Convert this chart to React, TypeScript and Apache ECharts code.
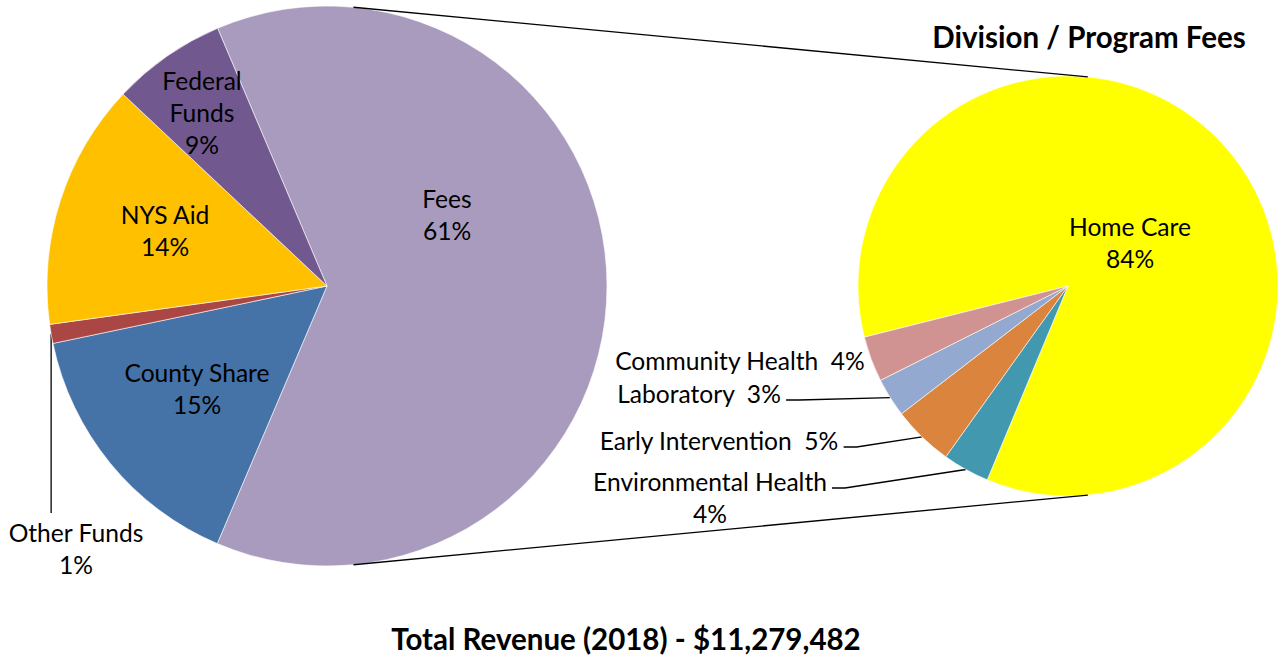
import React, { useEffect, useRef } from "react";
import * as echarts from "echarts";

// ---- Data ----
const leftCategories = ["Fees", "County Share", "Other Funds", "NYS Aid", "Federal Funds"];
const leftValues = [62.8, 15.3, 1.1, 14.2, 6.6];
const leftPercentLabels = [61, 15, 1, 14, 9];

const rightCategories = ["Home Care", "Environmental Health", "Early Intervention", "Laboratory", "Community Health"];
const rightValues = [85.2, 3.6, 4.7, 3.0, 3.5];
const rightPercentLabels = [84, 4, 5, 3, 4];

const rightTitle = "Division / Program Fees";
const revenueYear = "2018";
const revenueTotal = "$11,279,482";

// ---- Styles / layout ----
const FONT = "Lato, 'Open Sans', sans-serif";
const FONT_SIZE = 24.6;
const TITLE_SIZE = 29.5;
const LINE_H = 32;

const leftColors = ["#A99BBD", "#4572A7", "#AA4643", "#FFC000", "#71588F"];
const rightColors = ["#FFFF00", "#4198AF", "#DB843D", "#93A9CF", "#D19392"];

const LEFT = { cx: 327, cy: 286, r: 280, start: 113 };
const RIGHT = { cx: 1068, cy: 286, r: 210, start: 194.1 };

// label placement (block centre), separator and leader type per slice
const leftLabelCfg = [
  { x: 447, y: 214, sep: "\n", wrap: false, line: "none" },
  { x: 197, y: 388, sep: "\n", wrap: false, line: "none" },
  { x: 76, y: 548, sep: "\n", wrap: false, line: "down" },
  { x: 165, y: 230, sep: "\n", wrap: false, line: "none" },
  { x: 202, y: 112, sep: "\n", wrap: true, line: "none" },
];
const rightLabelCfg = [
  { x: 1130, y: 242, sep: "\n", wrap: false, line: "none" },
  { x: 710, y: 497, sep: "\n", wrap: false, line: "side" },
  { x: 719, y: 440, sep: "  ", wrap: false, line: "side" },
  { x: 699, y: 393, sep: "  ", wrap: false, line: "side" },
  { x: 740, y: 360, sep: "  ", wrap: false, line: "none" },
];

function midPoint(values: number[], geo: any, i: number): number[] {
  const total = values.reduce((a, b) => a + b, 0);
  let cum = 0;
  for (let k = 0; k < i; k++) cum += values[k];
  const mid = ((geo.start - ((cum + values[i] / 2) / total) * 360) * Math.PI) / 180;
  return [geo.cx + geo.r * Math.cos(mid), geo.cy - geo.r * Math.sin(mid)];
}

function buildSeries(
  categories: string[],
  values: number[],
  pcts: number[],
  colors: string[],
  cfg: any[],
  geo: any
) {
  return {
    type: "pie",
    center: [geo.cx, geo.cy],
    radius: geo.r,
    startAngle: geo.start,
    clockwise: true,
    avoidLabelOverlap: false,
    minShowLabelAngle: 0,
    itemStyle: { borderColor: "#ffffff", borderWidth: 0.6 },
    emphasis: { disabled: true },
    label: {
      show: true,
      fontFamily: FONT,
      fontSize: FONT_SIZE,
      lineHeight: LINE_H,
      color: "#000000",
      align: "center",
      formatter: (p: any) => {
        const c = cfg[p.dataIndex];
        const name = c.wrap ? p.name.replace(" ", "\n") : p.name;
        return name + c.sep + pcts[p.dataIndex] + "%";
      },
    },
    labelLine: {
      show: true,
      length: 10,
      length2: 10,
      lineStyle: { color: "#000000", width: 1.3 },
    },
    labelLayout: (params: any) => {
      const c = cfg[params.dataIndex];
      const rect = params.labelRect;
      const out: any = { x: c.x, y: c.y, align: "center", verticalAlign: "middle" };
      const p0 = midPoint(values, geo, params.dataIndex);
      if (c.line === "side") {
        const right = c.x + rect.width / 2;
        const top = c.y - rect.height / 2;
        const ly = top + LINE_H / 2 + 7;
        out.labelLinePoints = [p0, [right + 18, ly], [right + 5, ly]];
      } else if (c.line === "down") {
        const top = c.y - rect.height / 2;
        out.labelLinePoints = [p0, [p0[0], (p0[1] + top - 3) / 2], [p0[0], top - 3]];
      }
      return out;
    },
    data: categories.map((name, i) => ({
      name,
      value: values[i],
      itemStyle: { color: colors[i] },
      label: { position: cfg[i].line === "none" ? "inside" : "outside" },
      labelLine: { show: cfg[i].line !== "none" },
    })),
  };
}

function tangentLines() {
  const d = RIGHT.cx - LEFT.cx;
  const cosPhi = (LEFT.r - RIGHT.r) / d;
  const sinPhi = Math.sqrt(1 - cosPhi * cosPhi);
  const pt = (g: any, s: number) => [g.cx + g.r * cosPhi, g.cy + s * g.r * sinPhi];
  return [-1, 1].map((s) => {
    const a = pt(LEFT, s);
    const b = pt(RIGHT, s);
    return {
      type: "line",
      z: 10,
      shape: { x1: a[0], y1: a[1], x2: b[0], y2: b[1] },
      style: { stroke: "#000000", lineWidth: 1.3 },
    };
  });
}

export default function App() {
  const ref = useRef<HTMLDivElement>(null);
  useEffect(() => {
    document.body.style.margin = "0";
    const chart = echarts.init(ref.current!, null, { renderer: "svg" });
    chart.setOption({
      animation: false,
      backgroundColor: "#ffffff",
      series: [
        buildSeries(leftCategories, leftValues, leftPercentLabels, leftColors, leftLabelCfg, LEFT),
        buildSeries(rightCategories, rightValues, rightPercentLabels, rightColors, rightLabelCfg, RIGHT),
      ],
      graphic: [
        ...tangentLines(),
        {
          type: "text",
          z: 10,
          x: 1089,
          y: 36,
          style: {
            text: rightTitle,
            fontFamily: FONT,
            fontSize: TITLE_SIZE,
            fontWeight: "bold",
            fill: "#000000",
            align: "center",
            verticalAlign: "middle",
          },
        },
        {
          type: "text",
          z: 10,
          x: 626,
          y: 638,
          style: {
            text: `Total Revenue (${revenueYear}) - ${revenueTotal}`,
            fontFamily: FONT,
            fontSize: TITLE_SIZE,
            fontWeight: "bold",
            fill: "#000000",
            align: "center",
            verticalAlign: "middle",
          },
        },
      ],
    });
    return () => chart.dispose();
  }, []);
  return <div ref={ref} style={{ width: 1283, height: 655 }} />;
}
